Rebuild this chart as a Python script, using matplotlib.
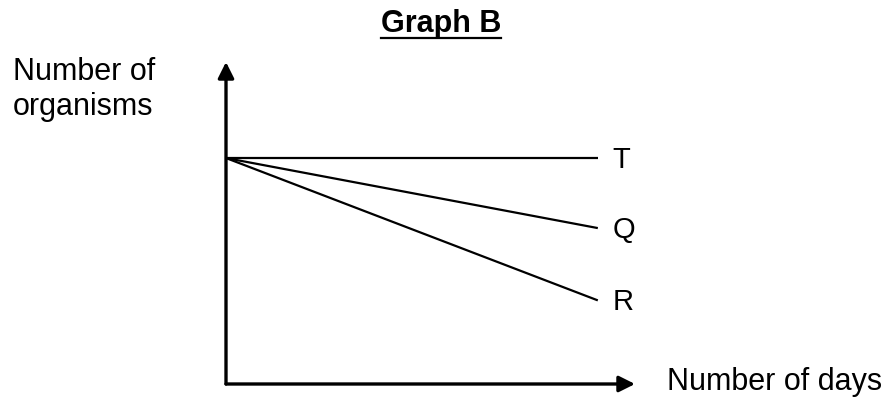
import matplotlib
matplotlib.use("Agg")
import matplotlib.pyplot as plt
from matplotlib.lines import Line2D

plt.rcParams['font.family'] = ['Liberation Sans', 'DejaVu Sans']

# Data
days = [0, 10]
series_names = ["T", "Q", "R"]
series_values = {
    "T": [100, 100],
    "Q": [100, 69],
    "R": [100, 37],
}
title = "Graph B"
ylabel_lines = ["Number of", "organisms"]
xlabel = "Number of days"

W, H = 889, 398
fig = plt.figure(figsize=(W / 100, H / 100), dpi=100)
fig.patch.set_facecolor('white')

def fx(px):
    return px / W

def fy(py):
    return 1 - py / H

ax = fig.add_axes([fx(226), fy(384), fx(635) - fx(226), fy(62) - fy(384)])
ax.set_xlim(0, 11)
ax.set_ylim(0, 142.5)
for s in ax.spines.values():
    s.set_visible(False)
ax.set_xticks([])
ax.set_yticks([])
ax.patch.set_alpha(0)

# axis arrows
arrow_kw = dict(arrowstyle='-|>', lw=2.4, color='black', mutation_scale=24,
                shrinkA=0, shrinkB=0)
ax.annotate('', xy=(1, 0), xytext=(0, 0), xycoords='axes fraction',
            textcoords='axes fraction', arrowprops=arrow_kw, annotation_clip=False)
ax.annotate('', xy=(0, 1), xytext=(0, 0), xycoords='axes fraction',
            textcoords='axes fraction', arrowprops=arrow_kw, annotation_clip=False)

# series lines and labels
for name in series_names:
    vals = series_values[name]
    ax.plot(days, vals, color='black', lw=1.6, solid_capstyle='butt', clip_on=False)
    ax.annotate(name, xy=(days[-1], vals[-1]), xytext=(15, -10),
                textcoords='offset pixels', ha='left', va='baseline',
                fontsize=21, color='black', annotation_clip=False)

# texts
t = fig.text(fx(441), fy(32), title, ha='center', va='baseline',
             fontsize=22, fontweight='bold', color='black')
fig.text(fx(13), fy(80), ylabel_lines[0], ha='left', va='baseline', fontsize=22, color='black')
fig.text(fx(13), fy(115), ylabel_lines[1], ha='left', va='baseline', fontsize=22, color='black')
fig.text(fx(667), fy(390), xlabel, ha='left', va='baseline', fontsize=22, color='black')

# underline title
fig.canvas.draw()
bb = t.get_window_extent(fig.canvas.get_renderer())
fig.add_artist(Line2D([bb.x0 / W, bb.x1 / W], [fy(38), fy(38)],
                      transform=fig.transFigure, color='black', lw=1.6))

fig.savefig('out.png', dpi=100, facecolor='white')
